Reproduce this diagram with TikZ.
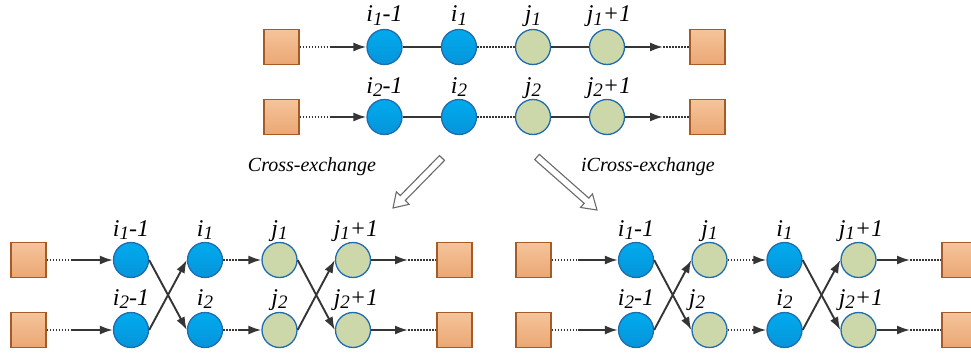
\documentclass[tikz,border=0pt]{standalone}
\usepackage{fontspec}
\setmainfont{Liberation Serif}
\newfontfamily\timesfam{Liberation Serif}
\usetikzlibrary{arrows.meta,calc}
\definecolor{bluefill}{HTML}{00ABEE}
\definecolor{bluebot}{HTML}{0794DA}
\definecolor{blueedge}{HTML}{1F6CB0}
\definecolor{greenfill}{HTML}{CCD8AA}
\definecolor{sqtop}{HTML}{F5C49A}
\definecolor{sqbot}{HTML}{EBA774}
\definecolor{sqedge}{HTML}{A65A26}
\definecolor{edgecol}{HTML}{353535}
\definecolor{bigarr}{HTML}{6A6A6A}
\newcommand\lsub[1]{\raisebox{-3.5pt}{\fontsize{19}{19}\selectfont #1}}
\newcommand\hollowarrow[2]{%
  \path (#2) coordinate (hh) ($(#2)!14pt!(#1)$) coordinate (hb);
  \draw[blockarr] ($(#1)!3.5pt!90:(#2)$) -- ($(hb)!3.5pt!-90:(#1)$) -- ($(hb)!9pt!-90:(#1)$) -- (hh)
    -- ($(hb)!9pt!90:(#1)$) -- ($(hb)!3.5pt!90:(#1)$) -- ($(#1)!3.5pt!-90:(#2)$) -- cycle;}
\tikzset{
  depot/.style={draw=sqedge, line width=1.3pt, top color=sqtop, bottom color=sqbot, minimum size=35pt, inner sep=0pt},
  cust/.style={circle, draw=blueedge, line width=1.3pt, top color=bluefill, bottom color=bluebot, minimum size=35pt, inner sep=0pt},
  custg/.style={circle, draw=blueedge, line width=1.3pt, fill=greenfill, minimum size=35pt, inner sep=0pt},
  lab/.style={font=\timesfam\fontsize{24}{24}\selectfont\itshape, anchor=base, inner sep=0pt},
  captext/.style={font=\timesfam\fontsize{20}{20}\selectfont\itshape, inner sep=0pt},
  link/.style={draw=edgecol, line width=1.9pt},
  arr/.style={link, -{Latex[length=13pt,width=9pt]}},
  dotl/.style={link, line width=1.7pt, dash pattern=on 1.7pt off 1.3pt},
  blockarr/.style={draw=bigarr, line width=1.1pt, fill=white, line join=miter},
}
\begin{document}
\begin{tikzpicture}[x=1pt,y=-1pt]
\useasboundingbox (0,0) rectangle (971,361);
% ---------- top panel ----------
\node[depot] (a1) at (281.5,47) {};
\node[cust]  (a2) at (384.5,47) {};
\node[cust]  (a3) at (459,47) {};
\node[custg] (a4) at (533,47) {};
\node[custg] (a5) at (607,47) {};
\node[depot] (a6) at (707.5,47) {};
\coordinate (am1) at (330,47);
\coordinate (am2) at (663,47);
\draw[dotl] (a1) -- (am1); \draw[arr] (am1) -- (a2);
\draw[link] (a2) -- (a3); \draw[dotl] (a3) -- (a4); \draw[link] (a4) -- (a5);
\draw[arr] (a5) -- (am2); \draw[dotl] (am2) -- (a6);
\node[depot] (b1) at (281.5,117) {};
\node[cust]  (b2) at (384.5,117) {};
\node[cust]  (b3) at (459,117) {};
\node[custg] (b4) at (533,117) {};
\node[custg] (b5) at (607,117) {};
\node[depot] (b6) at (707.5,117) {};
\coordinate (bm1) at (330,117);
\coordinate (bm2) at (663,117);
\draw[dotl] (b1) -- (bm1); \draw[arr] (bm1) -- (b2);
\draw[link] (b2) -- (b3); \draw[dotl] (b3) -- (b4); \draw[link] (b4) -- (b5);
\draw[arr] (b5) -- (bm2); \draw[dotl] (bm2) -- (b6);
\node[lab] (la2) at (384.5,22) {i\lsub{1}-1};
\node[lab] (la3) at (459,22) {i\lsub{1}};
\node[lab] (la4) at (533,22) {j\lsub{1}};
\node[lab] (la5) at (609,22) {j\lsub{1}+1};
\node[lab] (lb2) at (384.5,93) {i\lsub{2}-1};
\node[lab] (lb3) at (459,93) {i\lsub{2}};
\node[lab] (lb4) at (533,93) {j\lsub{2}};
\node[lab] (lb5) at (609,93) {j\lsub{2}+1};
% ---------- captions and big arrows ----------
\node[captext] (cx) at (312,167) {Cross-exchange};
\node[captext] (icx) at (648,167) {iCross-exchange};
\coordinate (lt) at (442,158); \coordinate (lh) at (393,208);
\coordinate (rt) at (537,157); \coordinate (rh) at (597,210);
\hollowarrow{lt}{lh}
\hollowarrow{rt}{rh}
% ---------- bottom left panel ----------
\node[depot] (c1) at (28.5,260) {};
\node[cust]  (c2) at (131,260) {};
\node[cust]  (c3) at (205,260) {};
\node[custg] (c4) at (279.5,260) {};
\node[custg] (c5) at (353,260) {};
\node[depot] (c6) at (454.5,260) {};
\node[depot] (d1) at (28.5,330) {};
\node[cust]  (d2) at (131,330) {};
\node[cust]  (d3) at (205,330) {};
\node[custg] (d4) at (279.5,330) {};
\node[custg] (d5) at (353,330) {};
\node[depot] (d6) at (454.5,330) {};
\coordinate (cm1) at (72,260); \coordinate (cm2) at (240,260); \coordinate (cm3) at (408,260);
\coordinate (dm1) at (72,330); \coordinate (dm2) at (240,330); \coordinate (dm3) at (408,330);
\draw[dotl] (c1) -- (cm1); \draw[arr] (cm1) -- (c2);
\draw[dotl] (d1) -- (dm1); \draw[arr] (dm1) -- (d2);
\draw[arr] (c2.east) -- (d3.west); \draw[arr] (d2.east) -- (c3.west);
\draw[dotl] (c3) -- (cm2); \draw[arr] (cm2) -- (c4);
\draw[dotl] (d3) -- (dm2); \draw[arr] (dm2) -- (d4);
\draw[arr] (c4.east) -- (d5.west); \draw[arr] (d4.east) -- (c5.west);
\draw[arr] (c5) -- (cm3); \draw[dotl] (cm3) -- (c6);
\draw[arr] (d5) -- (dm3); \draw[dotl] (dm3) -- (d6);
\node[lab] (lc2) at (131,236) {i\lsub{1}-1};
\node[lab] (lc3) at (205,236) {i\lsub{1}};
\node[lab] (lc4) at (279.5,236) {j\lsub{1}};
\node[lab] (lc5) at (356,236) {j\lsub{1}+1};
\node[lab] (ld2) at (131,305) {i\lsub{2}-1};
\node[lab] (ld3) at (205,305) {i\lsub{2}};
\node[lab] (ld4) at (279.5,305) {j\lsub{2}};
\node[lab] (ld5) at (356,305) {j\lsub{2}+1};
% ---------- bottom right panel ----------
\node[depot] (e1) at (533.5,260) {};
\node[cust]  (e2) at (636,260) {};
\node[custg] (e3) at (709.5,260) {};
\node[cust]  (e4) at (784.5,260) {};
\node[custg] (e5) at (858.5,260) {};
\node[depot] (e6) at (959.5,260) {};
\node[depot] (f1) at (533.5,330) {};
\node[cust]  (f2) at (636,330) {};
\node[custg] (f3) at (709.5,330) {};
\node[cust]  (f4) at (784.5,330) {};
\node[custg] (f5) at (858.5,330) {};
\node[depot] (f6) at (959.5,330) {};
\coordinate (em1) at (578,260); \coordinate (em2) at (752,260); \coordinate (em3) at (910,260);
\coordinate (fm1) at (578,330); \coordinate (fm2) at (752,330); \coordinate (fm3) at (910,330);
\draw[dotl] (e1) -- (em1); \draw[arr] (em1) -- (e2);
\draw[dotl] (f1) -- (fm1); \draw[arr] (fm1) -- (f2);
\draw[arr] (e2.east) -- (f3.west); \draw[arr] (f2.east) -- (e3.west);
\draw[dotl] (e3) -- (em2); \draw[arr] (em2) -- (e4);
\draw[dotl] (f3) -- (fm2); \draw[arr] (fm2) -- (f4);
\draw[arr] (e4.east) -- (f5.west); \draw[arr] (f4.east) -- (e5.west);
\draw[arr] (e5) -- (em3); \draw[dotl] (em3) -- (e6);
\draw[arr] (f5) -- (fm3); \draw[dotl] (fm3) -- (f6);
\node[lab] (le2) at (636,236) {i\lsub{1}-1};
\node[lab] (le3) at (709.5,236) {j\lsub{1}};
\node[lab] (le4) at (784.5,236) {i\lsub{1}};
\node[lab] (le5) at (861,236) {j\lsub{1}+1};
\node[lab] (lf2) at (636,305) {i\lsub{2}-1};
\node[lab] (lf3) at (697,305) {j\lsub{2}};
\node[lab] (lf4) at (784.5,305) {i\lsub{2}};
\node[lab] (lf5) at (861,305) {j\lsub{2}+1};
\end{tikzpicture}
\end{document}
